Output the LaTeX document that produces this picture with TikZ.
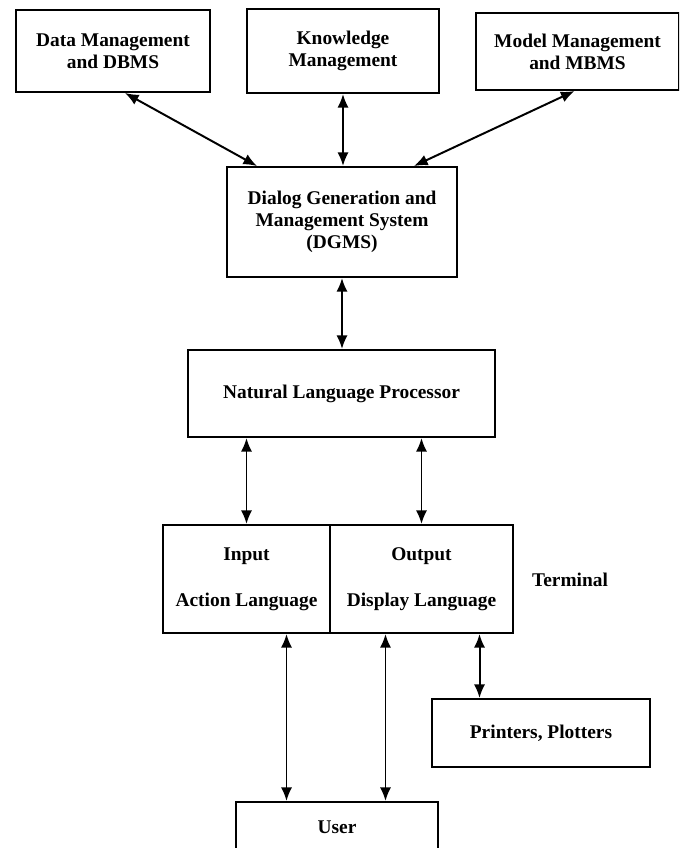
\documentclass[tikz,border=0pt]{standalone}
\usepackage{fontspec}
\setmainfont{Liberation Serif}
\usetikzlibrary{arrows.meta}

\begin{document}
\begin{tikzpicture}[x=0.025cm, y=-0.025cm,%
  box/.style={draw, line width=1.4pt, inner sep=0pt, align=center,%
    font=\fontsize{13.8}{15.5}\selectfont\bfseries},%
  link/.style={line width=1.4pt, {Latex[length=3.4mm,width=2.8mm]}-{Latex[length=3.4mm,width=2.8mm]}}]%
\useasboundingbox (0, 0) rectangle (679, 848);%
\clip (0, 0) rectangle (679, 848);%
% top row
\node[box, minimum width=4.85cm, minimum height=2.05cm] (data) at (113, 51) {Data Management\\and DBMS};%
\node[box, minimum width=4.8cm, minimum height=2.1cm] (know) at (343, 51) {Knowledge\\Management};%
\node[box, minimum width=5.05cm, minimum height=1.925cm] (model) at (577.5, 51.5) {Model Management\\and MBMS};%
% middle
\node[box, minimum width=5.75cm, minimum height=2.75cm] (dgms) at (342, 222) {Dialog Generation and\\Management System\\(DGMS)};%
\node[box, minimum width=7.675cm, minimum height=2.175cm] (nlp) at (341.5, 393.5) {Natural Language Processor};%
% terminal
\node[box, minimum width=4.175cm, minimum height=2.7cm] (input) at (246.5, 579) {Input\\[17pt]Action Language};%
\node[box, minimum width=4.575cm, minimum height=2.7cm] (output) at (421.5, 579) {Output\\[17pt]Display Language};%
\node[box, draw=none] (term) at (570, 580) {Terminal};%
% bottom
\node[box, minimum width=5.45cm, minimum height=1.7cm] (print) at (541, 733) {Printers, Plotters};%
\node[box, minimum width=5.05cm, minimum height=2cm] (user) at (337, 842) {};%
\node[font=\fontsize{13.8}{15.5}\selectfont\bfseries] (usertext) at (337, 827) {User};%
% connectors
\draw[link] ([xshift=0.3cm]data.south) -- ([xshift=-2.125cm]dgms.north);%
\draw[link] (know.south) -- (know.south |- dgms.north);%
\draw[link] ([xshift=-0.075cm]model.south) -- ([xshift=1.8cm]dgms.north);%
\draw[link] (dgms.south) -- (dgms.south |- nlp.north);%
\draw[link] (input.north |- nlp.south) -- (input.north);%
\draw[link] (output.north |- nlp.south) -- (output.north);%
\draw[link] ([xshift=1cm]input.south) -- ([xshift=1cm]input.south |- user.north);%
\draw[link] ([xshift=-0.9cm]output.south) -- ([xshift=-0.9cm]output.south |- user.north);%
\draw[link] ([xshift=1.45cm]output.south) -- ([xshift=1.45cm]output.south |- print.north);%
\end{tikzpicture}
\end{document}
